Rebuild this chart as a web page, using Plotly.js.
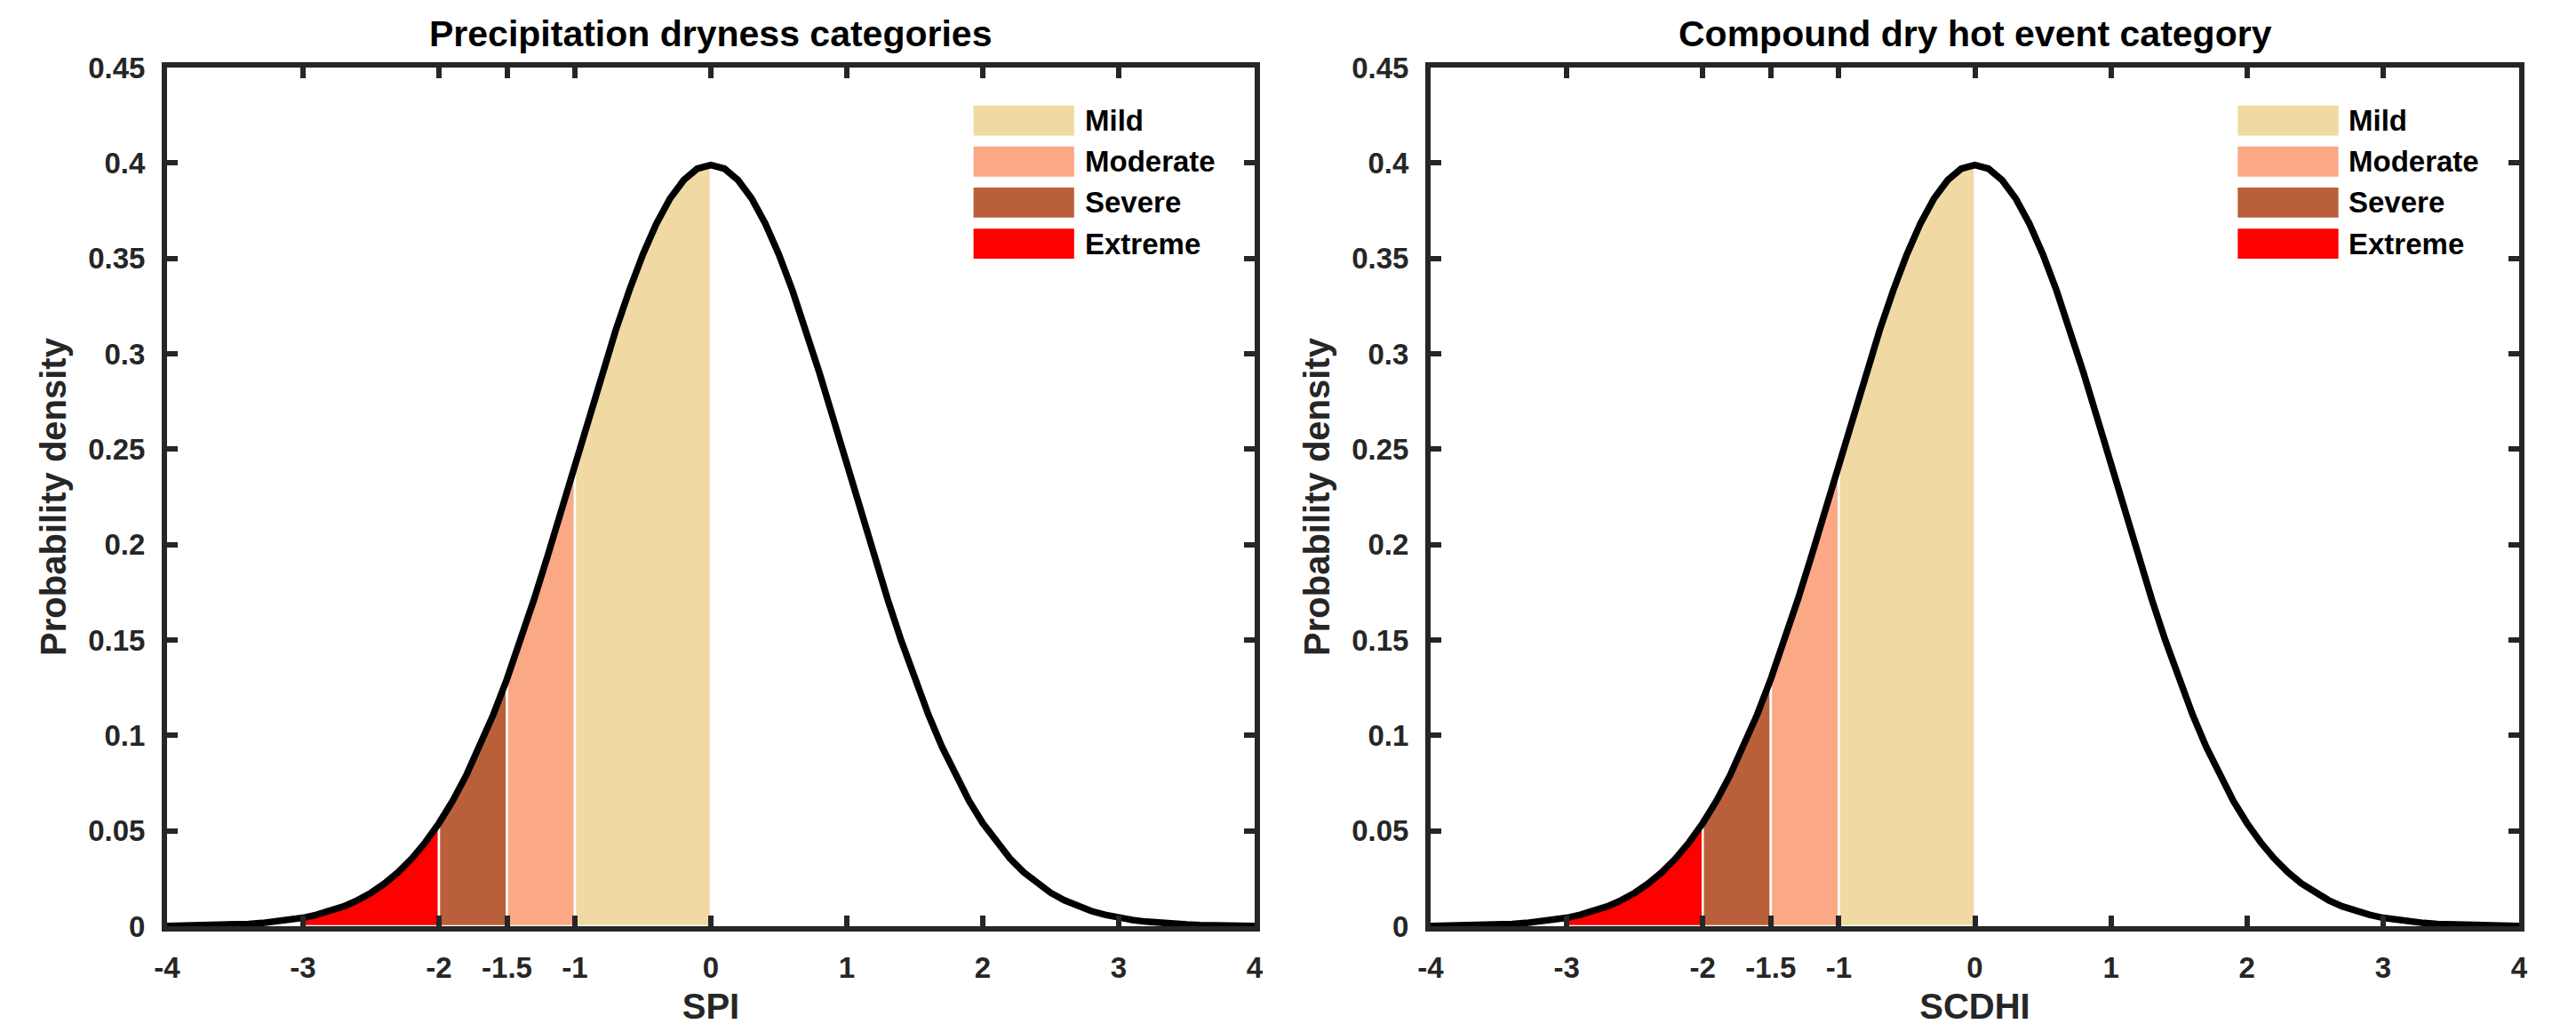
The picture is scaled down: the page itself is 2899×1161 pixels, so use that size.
<!DOCTYPE html>
<html>
<head>
<meta charset="utf-8">
<script src="https://cdn.plot.ly/plotly-3.0.1.min.js"></script>
<style>html,body{margin:0;padding:0;background:#fff;}#chart{width:2899px;height:1161px;}</style>
</head>
<body>
<div id="chart"></div>
<script>
// ---- Data ----
const xValues = [-4,-3.9,-3.8,-3.7,-3.6,-3.5,-3.4,-3.3,-3.2,-3.1,-3,-2.9,-2.8,-2.7,-2.6,-2.5,-2.4,-2.3,-2.2,-2.1,-2,-1.9,-1.8,-1.7,-1.6,-1.5,-1.4,-1.3,-1.2,-1.1,-1,-0.9,-0.8,-0.7,-0.6,-0.5,-0.4,-0.3,-0.2,-0.1,0,0.1,0.2,0.3,0.4,0.5,0.6,0.7,0.8,0.9,1,1.1,1.2,1.3,1.4,1.5,1.6,1.7,1.8,1.9,2,2.1,2.2,2.3,2.4,2.5,2.6,2.7,2.8,2.9,3,3.1,3.2,3.3,3.4,3.5,3.6,3.7,3.8,3.9,4];
const densityValues = [0.0001,0.0002,0.0003,0.0004,0.0006,0.0009,0.0012,0.0017,0.0024,0.0033,0.0044,0.0060,0.0079,0.0104,0.0136,0.0175,0.0224,0.0283,0.0355,0.0440,0.0540,0.0656,0.0790,0.0940,0.1109,0.1295,0.1497,0.1714,0.1942,0.2179,0.2420,0.2661,0.2897,0.3123,0.3332,0.3521,0.3683,0.3814,0.3910,0.3970,0.3989,0.3970,0.3910,0.3814,0.3683,0.3521,0.3332,0.3123,0.2897,0.2661,0.2420,0.2179,0.1942,0.1714,0.1497,0.1295,0.1109,0.0940,0.0790,0.0656,0.0540,0.0440,0.0355,0.0283,0.0224,0.0175,0.0136,0.0104,0.0079,0.0060,0.0044,0.0033,0.0024,0.0017,0.0012,0.0009,0.0006,0.0004,0.0003,0.0002,0.0001];

const categories = ['Mild', 'Moderate', 'Severe', 'Extreme'];
const categoryLower = [-1, -1.5, -2, -3];
const categoryUpper = [0, -1, -1.5, -2];
const categoryColors = ['#F0D9A3', '#FBA885', '#B9603A', '#FF0000'];

const xTickVals = [-4, -3, -2, -1.5, -1, 0, 1, 2, 3, 4];
const xTickText = ['-4', '-3', '-2', '-1.5', '-1', '0', '1', '2', '3', '4'];
const yTickVals = [0, 0.05, 0.1, 0.15, 0.2, 0.25, 0.3, 0.35, 0.4, 0.45];
const yTickText = ['0', '0.05', '0.1', '0.15', '0.2', '0.25', '0.3', '0.35', '0.4', '0.45'];

const panelTitles = ['Precipitation dryness categories', 'Compound dry hot event category'];
const panelXLabels = ['SPI', 'SCDHI'];
const yLabel = 'Probability density';

// ---- Build figure ----
const W = 2899, H = 1161;
const FONT = 'Liberation Sans, Arial, Helvetica, sans-serif';
const AXC = '#262626';
const traces = [];
const shapes = [];
const annotations = [];

const xDomains = [[188 / W, 1412 / W], [1610 / W, 2835 / W]];
const yDomain = [(H - 1042) / H, (H - 76) / H];

for (let p = 0; p < 2; p++) {
  const xa = p === 0 ? 'x' : 'x2';
  const ya = p === 0 ? 'y' : 'y2';
  // category fills
  for (let c = categories.length - 1; c >= 0; c--) {
    const lo = categoryLower[c], hi = categoryUpper[c];
    const px = [lo], py = [0];
    for (let i = 0; i < xValues.length; i++) {
      if (xValues[i] >= lo - 1e-9 && xValues[i] <= hi + 1e-9) {
        px.push(xValues[i]); py.push(densityValues[i]);
      }
    }
    px.push(hi, lo); py.push(0, 0);
    traces.push({
      x: px, y: py, type: 'scatter', mode: 'lines', fill: 'toself',
      fillcolor: categoryColors[c], line: {color: '#FFFFFF', width: 2.5},
      name: categories[c], xaxis: xa, yaxis: ya, hoverinfo: 'skip', showlegend: false
    });
  }
  // density curve
  traces.push({
    x: xValues, y: densityValues, type: 'scatter', mode: 'lines',
    line: {color: '#000000', width: 7.5}, xaxis: xa, yaxis: ya, showlegend: false
  });

  // legend (manual, box + label)
  const dx = p === 0 ? 'x domain' : 'x2 domain';
  const dy = p === 0 ? 'y domain' : 'y2 domain';
  for (let c = 0; c < categories.length; c++) {
    const y1 = 0.9558 - c * 0.0478;
    const y0 = y1 - 0.035;
    shapes.push({type: 'rect', xref: dx, yref: dy, x0: 0.7415, x1: 0.834, y0: y0, y1: y1,
      fillcolor: categoryColors[c], line: {width: 0}, layer: 'above'});
    annotations.push({xref: dx, yref: dy, x: 0.842, y: (y0 + y1) / 2, xanchor: 'left', yanchor: 'middle',
      text: categories[c], showarrow: false, font: {family: FONT, size: 33, color: '#000', weight: 'bold'}});
  }
  // panel title
  annotations.push({xref: dx, yref: 'paper', x: 0.5, y: (H - 38) / H, xanchor: 'center', yanchor: 'middle',
    text: panelTitles[p], showarrow: false, font: {family: FONT, size: 41, color: '#000', weight: 'bold'}});
}

function xAxis(p, domain) {
  return {
    domain: domain, range: [-4, 4], anchor: p === 0 ? 'y' : 'y2',
    tickvals: xTickVals, ticktext: xTickText, ticks: 'inside', ticklen: 12, tickwidth: 6, tickcolor: AXC,
    showline: true, linewidth: 6, linecolor: AXC, mirror: 'ticks', showgrid: false, zeroline: false,
    tickfont: {family: FONT, size: 33, color: AXC, weight: 'bold'}, ticklabelstandoff: 12,
    title: {text: panelXLabels[p], standoff: 14, font: {family: FONT, size: 40, color: AXC, weight: 'bold'}},
    automargin: false, fixedrange: true
  };
}
function yAxis(p) {
  return {
    domain: yDomain, range: [0, 0.45], anchor: p === 0 ? 'x' : 'x2',
    tickvals: yTickVals, ticktext: yTickText, ticks: 'inside', ticklen: 12, tickwidth: 6, tickcolor: AXC,
    showline: true, linewidth: 6, linecolor: AXC, mirror: 'ticks', showgrid: false, zeroline: false,
    tickfont: {family: FONT, size: 33, color: AXC, weight: 'bold'}, ticklabelstandoff: 12,
    title: {text: yLabel, standoff: 14, font: {family: FONT, size: 40, color: AXC, weight: 'bold'}},
    automargin: false, fixedrange: true
  };
}

const layout = {
  width: W, height: H, margin: {l: 0, r: 0, t: 0, b: 0},
  paper_bgcolor: '#FFFFFF', plot_bgcolor: '#FFFFFF', showlegend: false,
  xaxis: xAxis(0, xDomains[0]), yaxis: yAxis(0),
  xaxis2: xAxis(1, xDomains[1]), yaxis2: yAxis(1),
  shapes: shapes, annotations: annotations
};

Plotly.newPlot('chart', traces, layout, {staticPlot: true, displayModeBar: false});
</script>
</body>
</html>
